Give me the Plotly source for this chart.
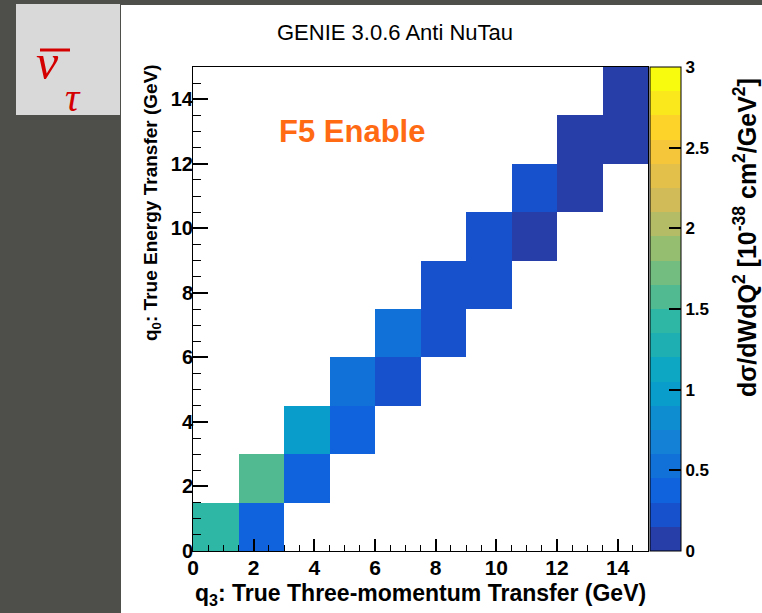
import plotly.graph_objects as go
import numpy as np

# ---------------- data ----------------
q3_edges = [0, 1.5, 3, 4.5, 6, 7.5, 9, 10.5, 12, 13.5, 15]
q0_edges = [0, 1.5, 3, 4.5, 6, 7.5, 9, 10.5, 12, 13.5, 15]
# rows = q0 bins (bottom to top), columns = q3 bins (left to right)
xsec = [
    [1.42, 0.40, None, None, None, None, None, None, None, None],
    [None, 1.58, 0.38, None, None, None, None, None, None, None],
    [None, None, 1.00, 0.38, None, None, None, None, None, None],
    [None, None, None, 0.52, 0.26, None, None, None, None, None],
    [None, None, None, None, 0.48, 0.26, None, None, None, None],
    [None, None, None, None, None, 0.26, 0.26, None, None, None],
    [None, None, None, None, None, None, 0.26, 0.12, None, None],
    [None, None, None, None, None, None, None, 0.28, 0.12, None],
    [None, None, None, None, None, None, None, None, 0.11, 0.10],
    [None, None, None, None, None, None, None, None, None, 0.10],
]
axis_ticks = [0, 2, 4, 6, 8, 10, 12, 14]
cbar_ticks = [0, 0.5, 1, 1.5, 2, 2.5, 3]
cbar_ticktext = ["0", "0.5", "1", "1.5", "2", "2.5", "3"]
zmin, zmax = 0, 3

# ---------------- ROOT kBird palette, 20 contour bands ----------------
stops = [0.0, 0.125, 0.25, 0.375, 0.5, 0.625, 0.75, 0.875, 1.0]
red = [0.2082, 0.0592, 0.0780, 0.0232, 0.1802, 0.5301, 0.8186, 0.9956, 0.9764]
green = [0.1664, 0.3599, 0.5041, 0.6419, 0.7178, 0.7492, 0.7328, 0.7862, 0.9832]
blue = [0.5293, 0.8684, 0.8385, 0.7914, 0.6425, 0.4662, 0.3499, 0.1968, 0.0539]
ncont = 20
colorscale = []
for i in range(ncont):
    idx = int((i + 0.99) * 255 / ncont)
    t = min(idx, 254) / 254
    r = np.interp(t, stops, red)
    g = np.interp(t, stops, green)
    b = np.interp(t, stops, blue)
    col = "rgb(%d,%d,%d)" % (round(r * 255), round(g * 255), round(b * 255))
    colorscale.append([i / ncont, col])
    colorscale.append([(i + 1) / ncont, col])

# ---------------- geometry helpers (pixel -> paper) ----------------
W, H = 762, 613
L, R, T, B = 193, 648, 67, 551
BG = "#4e4f4a"


def px(x):
    return (x - L) / (R - L)


def py(y):
    return (B - y) / (B - T)


FONT = "Liberation Sans"
bold = dict(family=FONT, color="black", weight="bold")

fig = go.Figure()
fig.add_trace(go.Heatmap(
    x=q3_edges, y=q0_edges, z=xsec,
    zmin=zmin, zmax=zmax, colorscale=colorscale,
    hoverongaps=False,
    colorbar=dict(
        thickness=31, thicknessmode="pixels",
        len=1, lenmode="fraction", y=0.5, yanchor="middle", ypad=0,
        x=px(650), xanchor="left", xpad=0,
        outlinecolor="black", outlinewidth=1,
        tickvals=cbar_ticks, ticktext=cbar_ticktext,
        ticks="inside", ticklen=12, tickcolor="black", tickwidth=1.5,
        tickfont=dict(bold, size=17),
    ),
))

fig.update_xaxes(
    range=[0, 15], showgrid=False, zeroline=False,
    showline=True, linecolor="black", linewidth=1, mirror=True,
    tickvals=axis_ticks, ticks="inside", ticklen=12, tickwidth=1.5, tickcolor="black",
    minor=dict(dtick=0.5, ticks="inside", ticklen=6, tickcolor="black", tickwidth=1),
    tickfont=dict(bold, size=21), ticklabelstandoff=-2,
)
fig.update_yaxes(
    range=[0, 15], showgrid=False, zeroline=False,
    showline=True, linecolor="black", linewidth=1, mirror=True,
    tickvals=axis_ticks, ticks="inside", ticklen=15, tickwidth=1.5, tickcolor="black",
    minor=dict(dtick=0.5, ticks="inside", ticklen=8, tickcolor="black", tickwidth=1),
    tickfont=dict(bold, size=20), ticklabelstandoff=-5,
)

shapes = [
    # white slide panel
    dict(type="rect", xref="paper", yref="paper", layer="below",
         x0=px(121), x1=px(W + 5), y0=py(H + 5), y1=py(5),
         fillcolor="white", line=dict(width=0)),
    # light grey box top-left
    dict(type="rect", xref="paper", yref="paper", layer="below",
         x0=px(16), x1=px(120), y0=py(115), y1=py(4),
         fillcolor="#d9d9d9", line=dict(width=0)),
    # overbar of nu
    dict(type="line", xref="paper", yref="paper",
         x0=px(40), x1=px(70), y0=py(50), y1=py(50),
         line=dict(color="#d40000", width=3)),
]

annotations = [
    dict(text="GENIE 3.0.6 Anti NuTau", x=px(395), y=py(33), xref="paper", yref="paper",
         showarrow=False, xanchor="center", yanchor="middle",
         font=dict(family=FONT, size=22, color="black")),
    dict(text="q<sub>3</sub>: True Three-momentum Transfer (GeV)", x=px(648), y=py(594),
         xref="paper", yref="paper", showarrow=False, xanchor="right", yanchor="middle",
         font=dict(bold, size=23)),
    dict(text="q<sub>0</sub>: True Energy Transfer (GeV)", x=px(152), y=py(203),
         xref="paper", yref="paper", showarrow=False, xanchor="center", yanchor="middle",
         textangle=-90, font=dict(bold, size=19)),
    dict(text="dσ/dWdQ<sup>2</sup> [10<sup>-38</sup> cm<sup>2</sup>/GeV<sup>2</sup>]",
         x=px(745), y=py(238), xref="paper", yref="paper", showarrow=False,
         xanchor="center", yanchor="middle", textangle=-90, font=dict(bold, size=25)),
    dict(text="F5 Enable", x=px(277), y=py(131), xref="paper", yref="paper",
         showarrow=False, xanchor="left", yanchor="middle",
         font=dict(family=FONT, size=31, color="#ff6a13", weight="bold")),
    dict(text="<i>ν</i>", x=px(47), y=py(62), xref="paper", yref="paper",
         showarrow=False, xanchor="center", yanchor="middle",
         font=dict(family="Liberation Serif", size=50, color="#d40000")),
    dict(text="<i>τ</i>", x=px(73), y=py(97), xref="paper", yref="paper",
         showarrow=False, xanchor="center", yanchor="middle",
         font=dict(family="Liberation Serif", size=40, color="#d40000")),
]

fig.update_layout(
    width=W, height=H,
    margin=dict(l=L, r=W - R, t=T, b=H - B, pad=0),
    paper_bgcolor=BG, plot_bgcolor="white",
    shapes=shapes, annotations=annotations,
    showlegend=False,
)

fig.write_html(
    "out.html",
    config={"displayModeBar": False},
    post_script="document.body.style.margin='0';document.body.style.background='%s';" % BG,
)
